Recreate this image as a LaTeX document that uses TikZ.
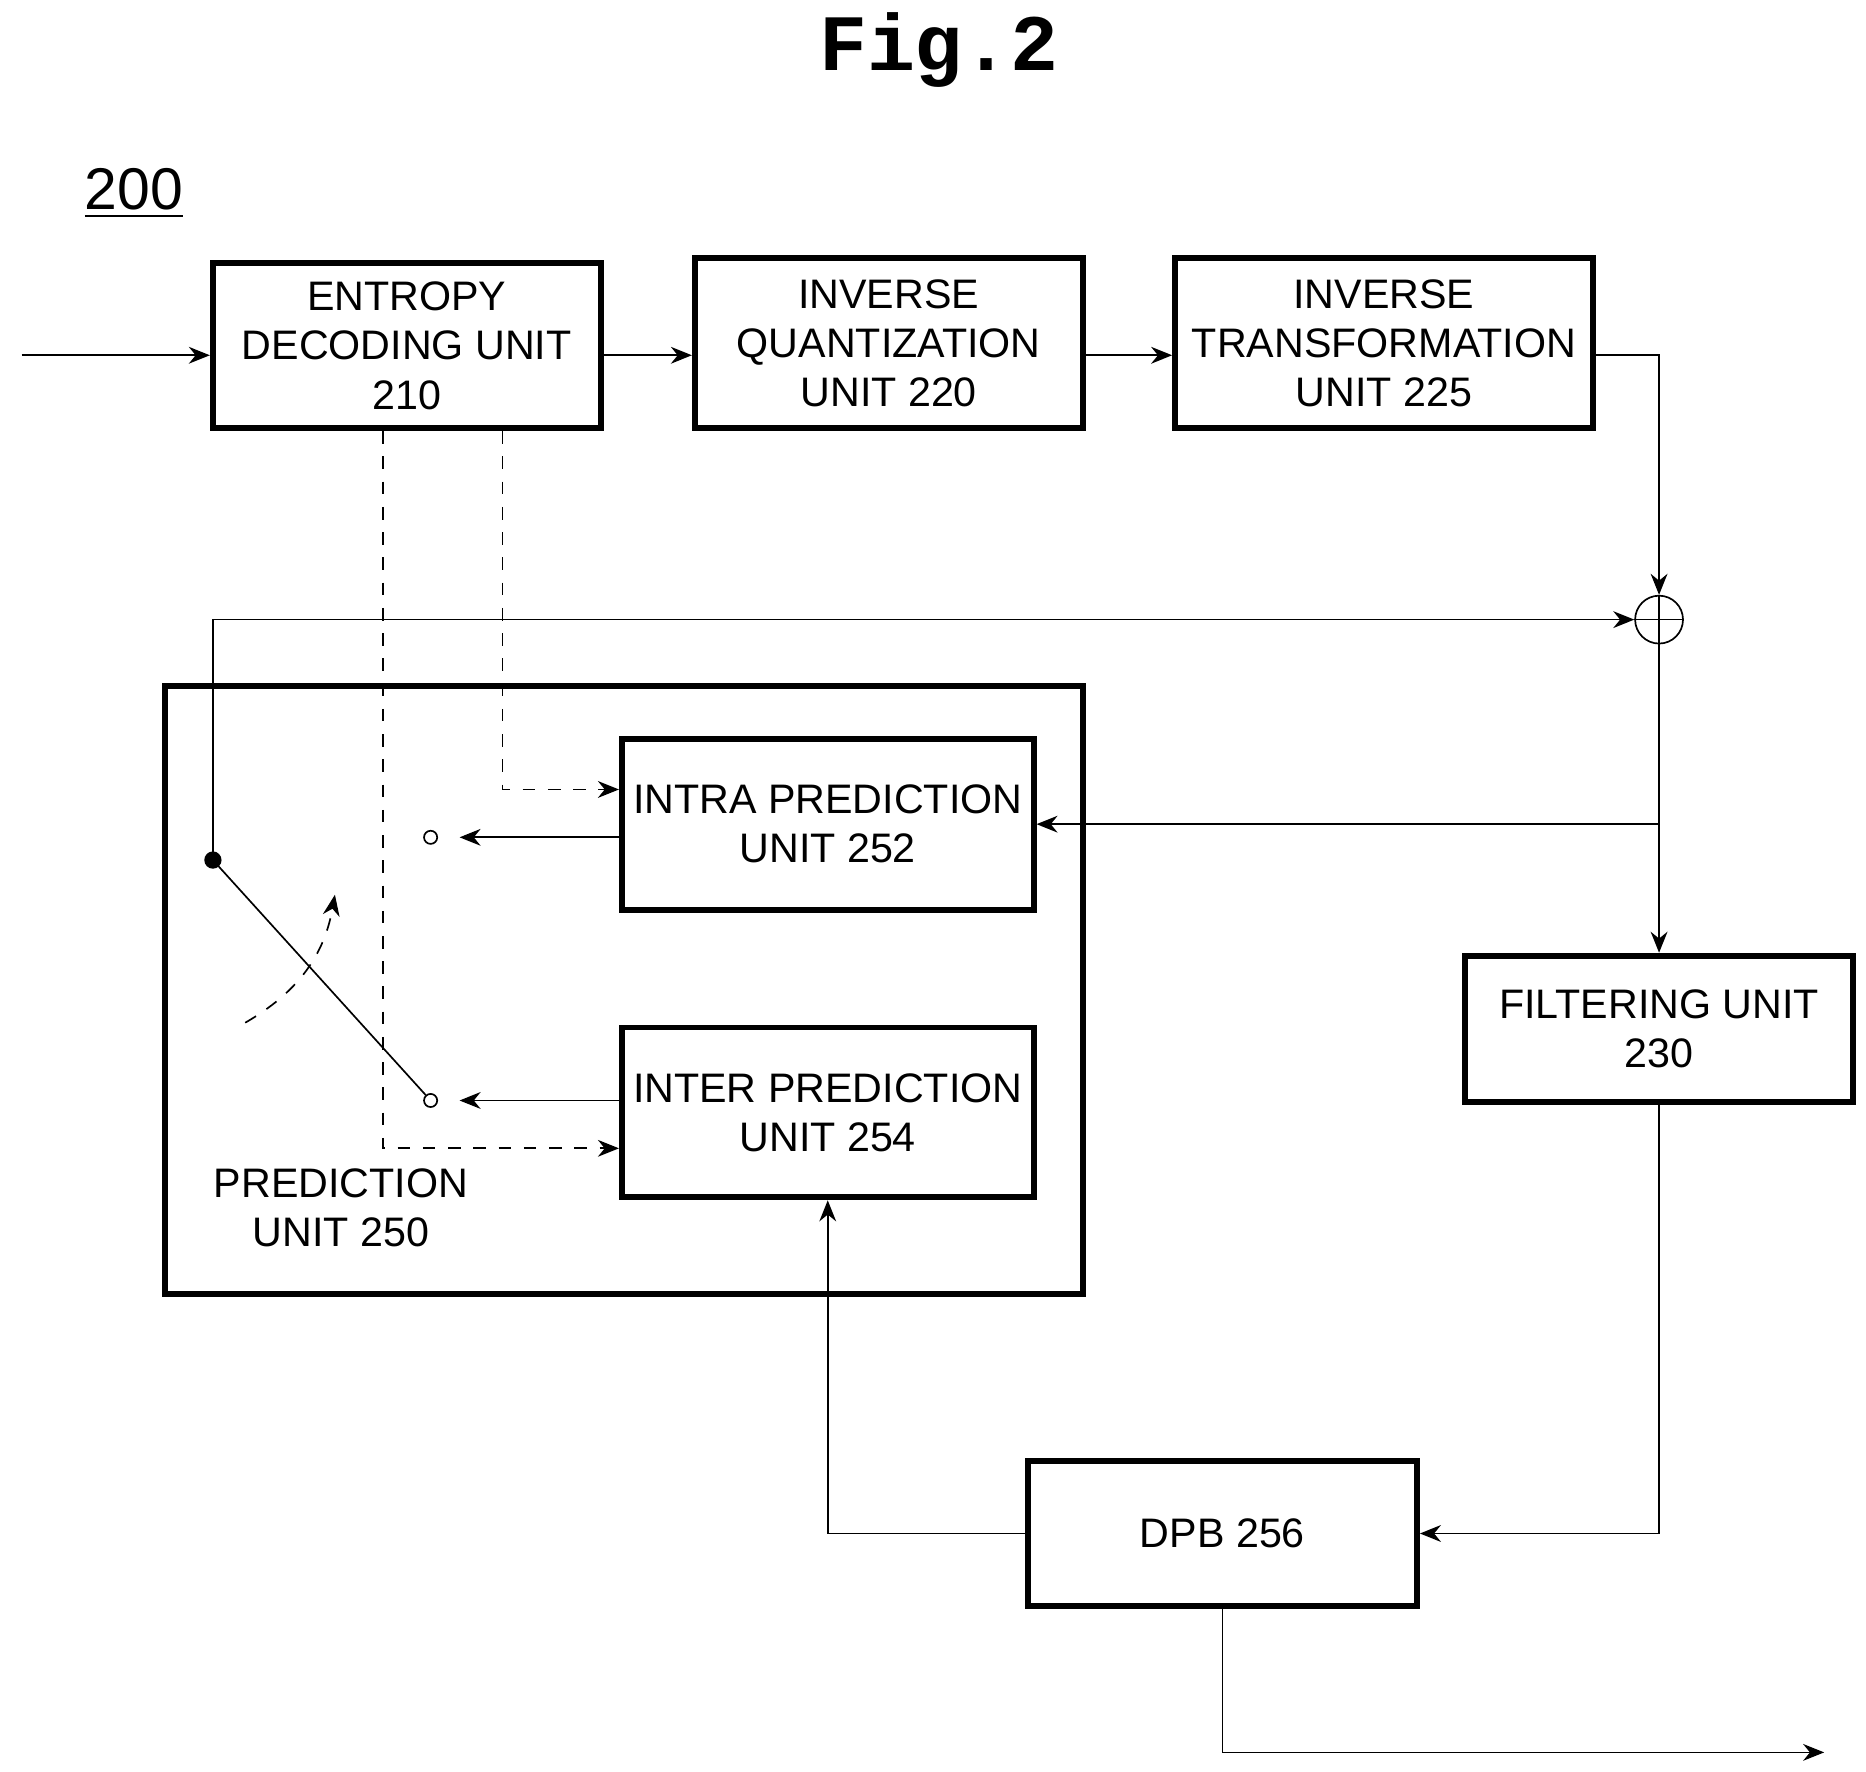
\documentclass[tikz,border=0pt]{standalone}
\usepackage{fontspec}
\setmainfont{Liberation Sans}
\newfontfamily\figfont{Liberation Mono}
\usetikzlibrary{positioning, calc, arrows.meta}

\begin{document}
\begin{tikzpicture}[x=0.01cm,y=-0.01cm,>={Stealth[length=5pt,width=4pt]},
    unit/.style={draw, line width=1.4pt, align=center, inner sep=0pt,
      font=\fontsize{9.8}{11.7}\selectfont},
    dashline/.style={dashed, thin}]
      \useasboundingbox (0,0) rectangle (1560,1481);
      \node[font=\figfont\bfseries\fontsize{19}{22}\selectfont] (title) at (785,42) {Fig.2};
      \node[font=\fontsize{14}{16}\selectfont] (label) at (112,162) {\underline{200}};
      %
      \node[unit, minimum width=3.24cm, minimum height=1.38cm] (entropy) at (340,289) {ENTROPY\\DECODING UNIT\\210};
      \node[unit, minimum width=3.24cm, minimum height=1.42cm] (quant) at (743,287) {INVERSE\\QUANTIZATION\\UNIT 220};
      \node[unit, minimum width=3.49cm, minimum height=1.42cm] (trans) at (1157,287) {INVERSE\\TRANSFORMATION\\UNIT 225};
      \node[draw, circle, minimum size=0.4cm, inner sep=0pt] (adder) at (1387,518) {};
      \draw (adder.north) -- (adder.south) (adder.west) -- (adder.east);
      \node[draw, line width=1.4pt, minimum width=7.67cm, minimum height=5.08cm] (pred) at (521.5,828) {};
      \node[unit, minimum width=3.44cm, minimum height=1.43cm] (intra) at (692,689) {INTRA PREDICTION\\UNIT 252};
      \node[unit, minimum width=3.44cm, minimum height=1.42cm] (inter) at (692,930) {INTER PREDICTION\\UNIT 254};
      \node[unit, minimum width=3.24cm, minimum height=1.22cm] (filter) at (1387,860) {FILTERING UNIT\\230};
      \node[unit, minimum width=3.25cm, minimum height=1.21cm] (dpb) at (1022,1282) {DPB 256};
      \node[align=center, font=\fontsize{9.8}{11.7}\selectfont] (predlabel) at (285,1010) {PREDICTION\\UNIT 250};
      %
      \coordinate (in) at (18,297);
      \coordinate (out) at (1525,1465);
      \node[draw, circle, fill, inner sep=0pt, minimum size=0.13cm] (pivot) at (178,719) {};
      \node[draw, circle, inner sep=0pt, minimum size=0.11cm] (intrapin) at (360,700) {};
      \node[draw, circle, inner sep=0pt, minimum size=0.11cm] (interpin) at (360,920) {};

      \draw[->] (in) -- (in -| entropy.west);
      \draw[->] (entropy.east |- in) -- (in -| quant.west);
      \draw[->] (quant.east |- in) -- (in -| trans.west);
      \draw[->] (trans.east |- in) -| (adder.north);
      \draw[->] (adder.south) -- (filter.north);
      \draw[->] (adder |- intra.east) -- (intra.east);
      \draw[->] (filter.south) |- (dpb.east);
      \draw[->] (dpb.west) -| (inter.south);
      \draw[->] (dpb.south) |- (out);
      \draw[->] (pivot.center) |- (adder.west);
      \draw (pivot.center) -- (interpin);
      \draw[->] (intra.west |- intrapin) -- ($(intrapin.east)+(18,0)$);
      \draw[->] (inter.west |- interpin) -- ($(interpin.east)+(18,0)$);
      \draw[dashline, ->] (entropy.south -| 420,0) |- (intra.west |- 0,660);
      \draw[dashline, ->] (entropy.south -| 320,0) |- (inter.west |- 0,960);
      \draw[dashed, ->] (205,855) to[bend right=25] (280,748);
\end{tikzpicture}
\end{document}
